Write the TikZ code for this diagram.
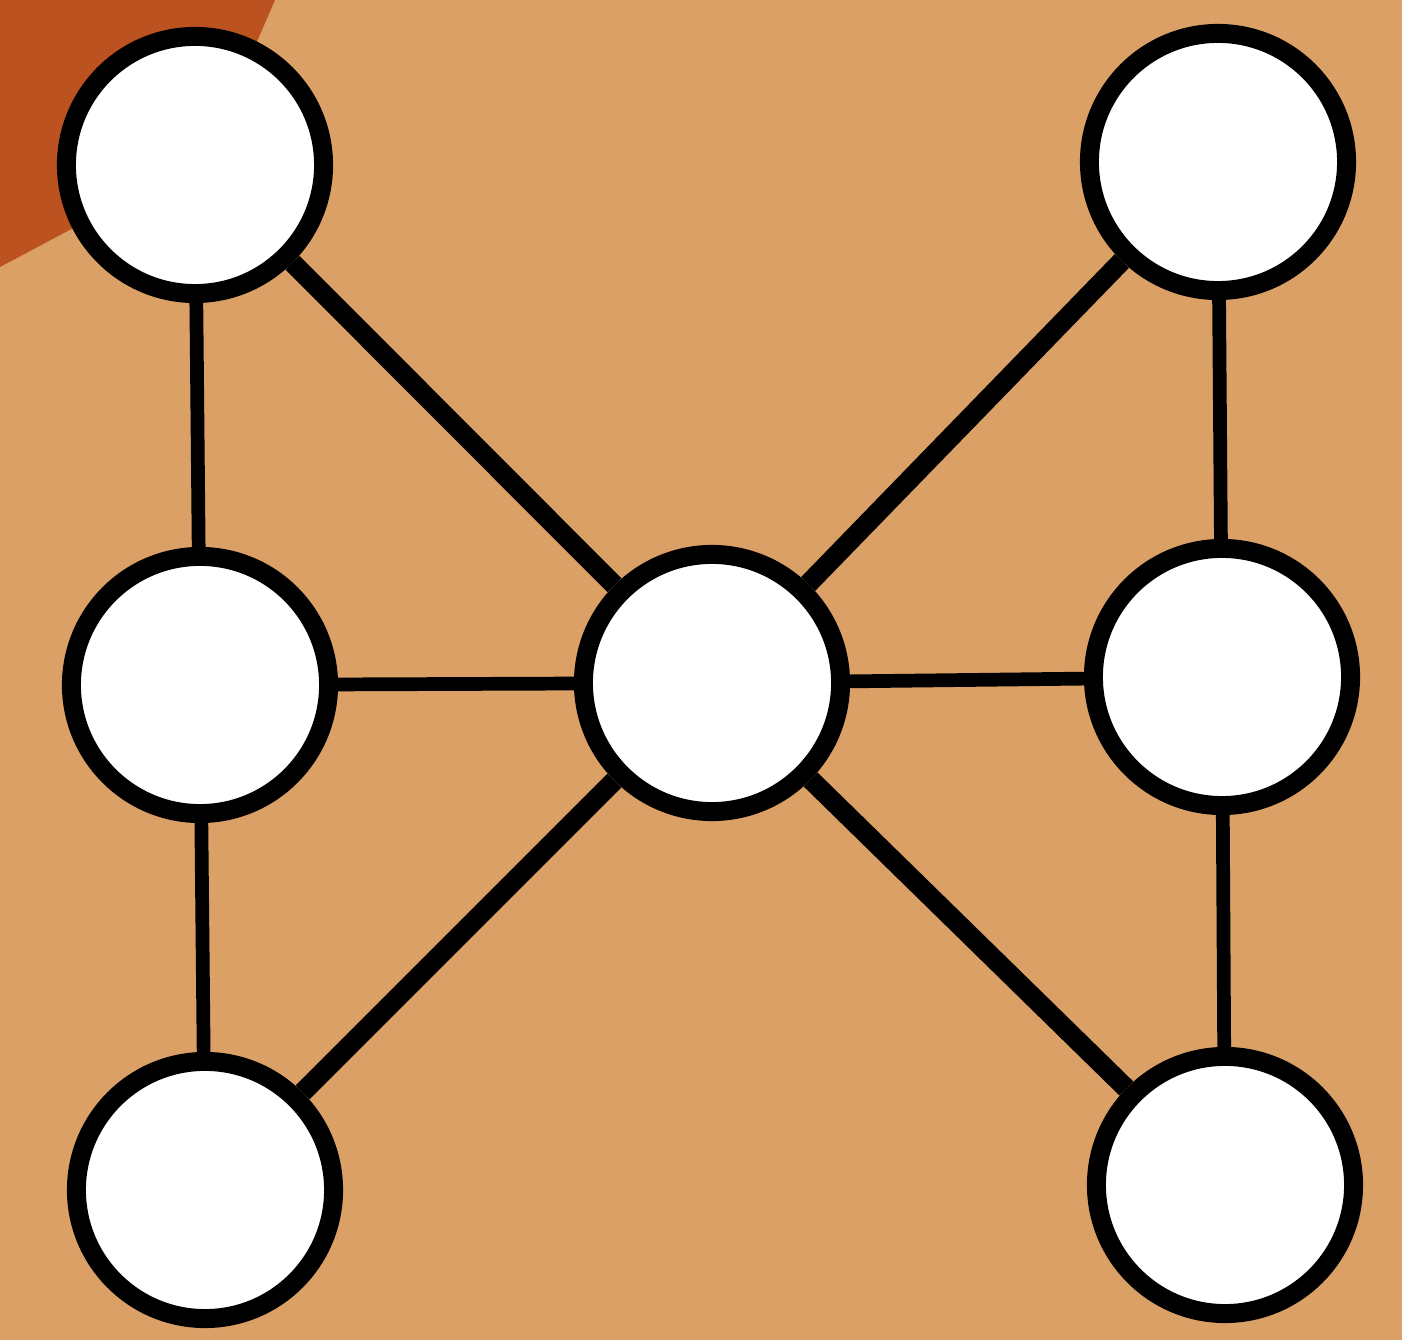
\documentclass[tikz,border=0pt]{standalone}
\usepackage{xcolor}
\usepackage{tikz}
\usetikzlibrary{shapes,positioning}

\definecolor{paper}{RGB}{219,160,102}
\definecolor{rust}{RGB}{188,82,32}

\begin{document}
\begin{tikzpicture}[
      x=0.01cm, y=-0.01cm,
      vtx/.style={circle, draw=black, fill=white, line width=5.4pt, minimum size=2.57cm, inner sep=0pt},
      rung/.style={draw, line width=3.9pt},
      spoke/.style={draw, line width=5.6pt}
    ]
    \fill[paper] (0,0) rectangle (1402,1340);
    \fill[rust] (0,0) -- (275,0) -- (207,157) -- (0,267) -- cycle;
    \useasboundingbox (0,0) rectangle (1402,1340);
    \node[vtx] (tl) at (195,165) {};
    \node[vtx] (tr) at (1218,162) {};
    \node[vtx] (ml) at (200,685) {};
    \node[vtx] (mid) at (712,683) {};
    \node[vtx] (mr) at (1222,677) {};
    \node[vtx] (bl) at (205,1190) {};
    \node[vtx] (br) at (1225,1185) {};
    \draw[rung] (tl) -- (ml); \draw[rung] (ml) -- (bl);
    \draw[rung] (tr) -- (mr); \draw[rung] (mr) -- (br);
    \draw[rung] (ml) -- (mid); \draw[rung] (mid) -- (mr);
    \foreach \n in {tl,tr,bl,br} {
        \draw[spoke] (mid) -- (\n);
    }
  \end{tikzpicture}
\end{document}
